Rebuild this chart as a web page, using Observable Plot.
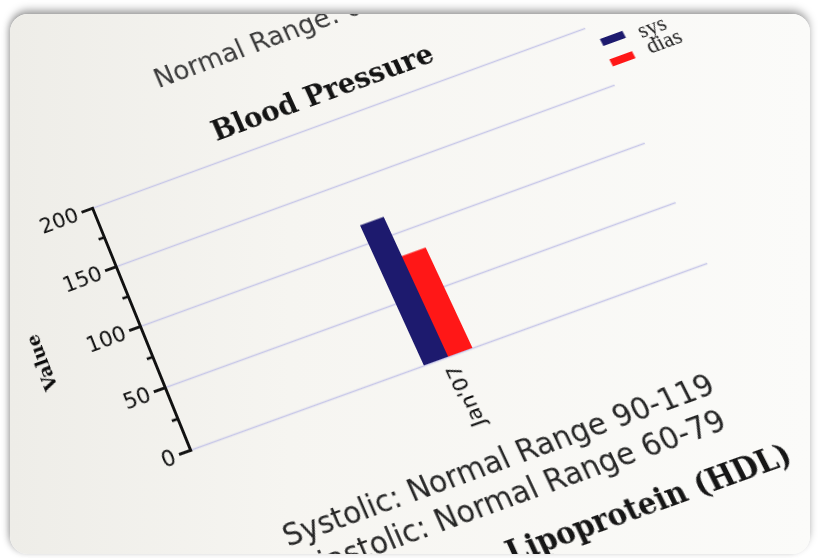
<!DOCTYPE html>
<html>
<head>
<meta charset="utf-8">
<script src="https://cdn.jsdelivr.net/npm/d3@7"></script>
<script src="https://cdn.jsdelivr.net/npm/@observablehq/plot@0.6"></script>
<style>
  html, body { margin: 0; padding: 0; background: #ffffff; width: 818px; height: 558px; overflow: hidden; }
  #frame { position: absolute; left: 10px; top: 14px; width: 800px; height: 540px; border-radius: 18px; overflow: hidden;
           background: linear-gradient(90deg, #eeede8 0%, #f6f5f1 35%, #fbfbf9 100%);
           box-shadow: 0 -5px 9px -1px rgba(0,0,0,0.35), -3px 0 7px -2px rgba(0,0,0,0.25); }
  #paper { position: absolute; left: -10px; top: -14px; width: 1000px; height: 800px; transform-origin: 0 0; }
  #paper > * { position: absolute; white-space: nowrap; }
  #chart { left: 80px; top: 230px; }
  .nr { font-family: "DejaVu Sans", sans-serif; font-size: 28px; color: #3b3b3b; }
  .title { font-family: "DejaVu Serif", serif; font-weight: bold; font-size: 29px; color: #141414; }
  .sw { width: 25px; height: 8px; }
  .lg { font-family: "Liberation Serif", serif; font-size: 23px; color: #1e1e1e; }
  .note { font-family: "DejaVu Sans", sans-serif; font-size: 29px; color: #262626; line-height: 34px; }
  .head { font-family: "DejaVu Serif", serif; font-weight: bold; font-size: 28px; color: #161616; }
  g[aria-label="y-axis label"] text { font-family: "DejaVu Serif", serif; font-weight: bold; font-size: 19px; }
</style>
</head>
<body>
<div id="frame"><div id="paper"></div></div>
<script>
// ---- data ----
const categories = ["Jan'07"];
const series = ["sys", "dias"];
const values = [115, 82];
const colors = ["#1d1a6e", "#ff1717"];
const yTicks = [0, 50, 100, 150, 200];
const yMinorTicks = [25, 75, 125, 175];
const titleText = "Blood Pressure";
const yLabel = "Value";
const topNote = "Normal Range: 0";
const notes = ["Systolic: Normal Range 90-119", "Diastolic: Normal Range 60-79"];
const nextHeading = "Lipoprotein (HDL)";

const table = series.map((s, i) => ({date: categories[0], series: s, value: values[i]}));

// ---- perspective of the photographed page ----
const flatPts  = [[200, 500], [200, 240], [753, 500], [753, 240]];
const photoPts = [[190, 450], [92, 208], [707, 263], [585, 28]];

function homography(src, dst) {
  const A = [], b = [];
  for (let i = 0; i < 4; i++) {
    const [x, y] = src[i], [u, v] = dst[i];
    A.push([x, y, 1, 0, 0, 0, -x * u, -y * u]); b.push(u);
    A.push([0, 0, 0, x, y, 1, -x * v, -y * v]); b.push(v);
  }
  const n = 8;
  for (let c = 0; c < n; c++) {
    let p = c;
    for (let r = c + 1; r < n; r++) if (Math.abs(A[r][c]) > Math.abs(A[p][c])) p = r;
    [A[c], A[p]] = [A[p], A[c]]; [b[c], b[p]] = [b[p], b[c]];
    for (let r = 0; r < n; r++) if (r !== c) {
      const f = A[r][c] / A[c][c];
      for (let k = c; k < n; k++) A[r][k] -= f * A[c][k];
      b[r] -= f * b[c];
    }
  }
  const h = b.map((v, i) => v / A[i][i]);
  return [[h[0], h[1], h[2]], [h[3], h[4], h[5]], [h[6], h[7], 1]];
}
function inv3(m) {
  const [[a, b, c], [d, e, f], [g, h, i]] = m;
  const A = e * i - f * h, B = -(d * i - f * g), C = d * h - e * g;
  const det = a * A + b * B + c * C;
  return [[A / det, -(b * i - c * h) / det, (b * f - c * e) / det],
          [B / det, (a * i - c * g) / det, -(a * f - c * d) / det],
          [C / det, -(a * h - b * g) / det, (a * e - b * d) / det]];
}
function apply(m, [x, y]) {
  const w = m[2][0] * x + m[2][1] * y + m[2][2];
  return [(m[0][0] * x + m[0][1] * y + m[0][2]) / w, (m[1][0] * x + m[1][1] * y + m[1][2]) / w];
}
const H = homography(flatPts, photoPts);
const Hi = inv3(H);
const paper = document.getElementById("paper");
paper.style.transform = `matrix3d(${H[0][0]},${H[1][0]},0,${H[2][0]},${H[0][1]},${H[1][1]},0,${H[2][1]},0,0,1,0,${H[0][2]},${H[1][2]},0,${H[2][2]})`;

function place(el, pt, anchor) {
  const [x, y] = apply(Hi, pt);
  el.style.left = x + "px";
  el.style.top = y + "px";
  el.style.transform = anchor === "left" ? "translate(0,-50%)" : anchor === "right" ? "translate(-100%,-50%)" : "translate(-50%,-50%)";
  paper.appendChild(el);
}
function div(cls, text) { const d = document.createElement("div"); d.className = cls; if (text != null) d.textContent = text; return d; }

// ---- chart ----
const chart = Plot.plot({
  width: 683, height: 340,
  marginLeft: 120, marginRight: 10, marginTop: 10, marginBottom: 70,
  style: {background: "transparent", fontFamily: "DejaVu Sans, sans-serif", fontSize: "22px", color: "#0d0d0d", overflow: "visible"},
  fx: {domain: categories, padding: 0},
  x: {domain: series, paddingInner: 0, paddingOuter: 9.4, axis: null},
  y: {domain: [0, 200]},
  color: {domain: series, range: colors},
  marks: [
    Plot.gridY(yTicks, {stroke: "#c6c6e8", strokeOpacity: 1, strokeWidth: 1.5}),
    Plot.barY(table, {fx: "date", x: "series", y: "value", fill: "series"}),
    Plot.axisY(yTicks, {tickSize: 12, tickPadding: 5, strokeWidth: 2.8, fontSize: 22, label: yLabel, labelArrow: false, labelAnchor: "center", labelOffset: 116}),
    Plot.axisY(yMinorTicks, {tickSize: 6, strokeWidth: 2.6, tickFormat: () => "", label: null}),
    Plot.frame({anchor: "left", stroke: "#111", strokeWidth: 3}),
    Plot.axisFx({anchor: "bottom", tickRotate: -90, tickSize: 0, tickPadding: 9, fontSize: 20, label: null})
  ]
});
chart.id = "chart";
paper.appendChild(chart);

// ---- surrounding page text ----
place(div("nr", topNote), [155, 80], "left");
place(div("title", titleText), [322, 92], "center");
series.forEach((s, i) => {
  const sw = div("sw"); sw.style.background = colors[i];
  place(sw, [[612.5, 38.3], [622.5, 58.3]][i], "center");
  place(div("lg", s), [[651.7, 27], [664, 41.5]][i], "center");
});
const block = div("note");
notes.forEach(t => block.appendChild(div("", t)));
const [bx, by] = apply(Hi, [284, 537]);
block.style.left = bx + "px"; block.style.top = (by - 17) + "px";
paper.appendChild(block);
place(div("head", nextHeading), [789, 452], "right");
</script>
</body>
</html>
